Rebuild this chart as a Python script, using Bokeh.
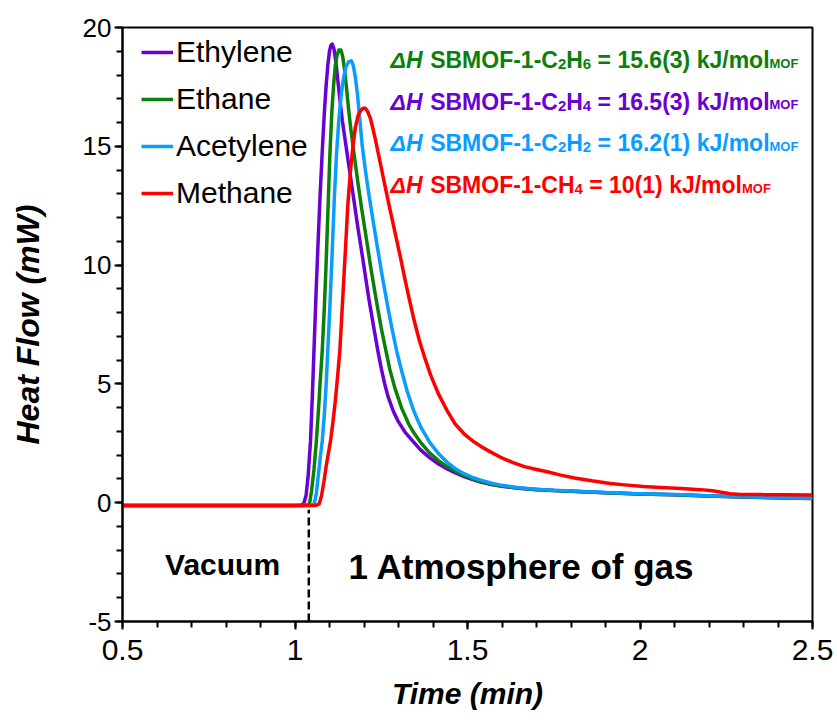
from bokeh.plotting import figure
from bokeh.models import (Range1d, SingleIntervalTicker, CustomJSTickFormatter,
                          ColumnDataSource, Legend, LegendItem)
from bokeh.core.properties import value
from bokeh.embed import file_html
from bokeh.resources import INLINE

# ---------------- data ----------------
ethylene_t = [0.5, 1.0, 1.015, 1.025, 1.032, 1.038, 1.045, 1.05, 1.055, 1.061, 1.067,
              1.073, 1.079, 1.085, 1.09, 1.095, 1.1, 1.104, 1.108, 1.113, 1.118, 1.124,
              1.13, 1.137, 1.144, 1.151, 1.16, 1.17, 1.182, 1.195, 1.205, 1.215, 1.228,
              1.24, 1.25, 1.26, 1.27, 1.285, 1.3, 1.32, 1.344, 1.364, 1.39, 1.415, 1.441,
              1.465, 1.49, 1.515, 1.538, 1.57, 1.6, 1.65, 1.7, 1.75, 1.8, 1.9, 2.0, 2.1,
              2.2, 2.3, 2.4, 2.5]
ethylene_q = [-0.12, -0.12, -0.11, -0.05, 0.3, 1.1, 2.6, 4.4, 6.4, 8.8, 11.0,
              13.0, 14.8, 16.4, 17.5, 18.4, 19.0, 19.25, 19.3, 19.1, 18.6, 17.8,
              17.0, 16.1, 15.4, 14.7, 13.8, 12.8, 11.6, 10.4, 9.45, 8.5, 7.4,
              6.4, 5.65, 5.0, 4.45, 3.85, 3.4, 2.95, 2.55, 2.22, 1.9, 1.64, 1.42,
              1.25, 1.1, 0.97, 0.87, 0.76, 0.69, 0.61, 0.55, 0.51, 0.48, 0.42, 0.37, 0.33,
              0.28, 0.24, 0.21, 0.18]

ethane_t = [0.5, 1.02, 1.033, 1.042, 1.048, 1.055, 1.062, 1.068, 1.073, 1.079, 1.085,
            1.09, 1.096, 1.101, 1.107, 1.112, 1.117, 1.122, 1.127, 1.133, 1.138, 1.143,
            1.149, 1.155, 1.162, 1.171, 1.182, 1.195, 1.207, 1.219, 1.23, 1.24, 1.25,
            1.262, 1.275, 1.29, 1.31, 1.33, 1.344, 1.364, 1.39, 1.415, 1.441, 1.465,
            1.49, 1.515, 1.538, 1.57, 1.6, 1.65, 1.7, 1.75, 1.8, 1.9, 2.0, 2.1, 2.2,
            2.3, 2.4, 2.5]
ethane_q = [-0.12, -0.12, -0.11, -0.05, 0.5, 1.4, 2.6, 3.9, 5.1, 6.4, 8.2,
            10.0, 12.5, 14.6, 16.5, 17.6, 18.4, 18.85, 19.05, 19.05, 18.8, 18.3,
            17.5, 16.6, 15.7, 14.7, 13.5, 12.2, 11.1, 9.95, 9.0, 8.15, 7.35,
            6.5, 5.6, 4.8, 3.95, 3.3, 2.95, 2.54, 2.1, 1.78, 1.52, 1.32,
            1.14, 1.0, 0.89, 0.77, 0.7, 0.61, 0.56, 0.51, 0.48, 0.42, 0.37, 0.33, 0.28,
            0.24, 0.21, 0.18]

acetylene_t = [0.5, 1.035, 1.048, 1.056, 1.062, 1.068, 1.074, 1.079, 1.085, 1.09, 1.095,
               1.101, 1.108, 1.114, 1.12, 1.127, 1.134, 1.141, 1.148, 1.155, 1.163, 1.169,
               1.175, 1.181, 1.188, 1.195, 1.205, 1.215, 1.227, 1.24, 1.248, 1.257, 1.267,
               1.28, 1.296, 1.31, 1.325, 1.344, 1.364, 1.39, 1.415, 1.441, 1.465, 1.49,
               1.515, 1.538, 1.57, 1.6, 1.65, 1.7, 1.75, 1.8, 1.9, 2.0, 2.1, 2.2, 2.3,
               2.4, 2.5]
acetylene_q = [-0.12, -0.12, -0.11, -0.05, 0.4, 1.2, 2.0, 2.6, 3.7, 4.9, 6.4,
               8.2, 10.6, 12.8, 14.6, 16.1, 17.2, 17.9, 18.35, 18.55, 18.6, 18.4,
               17.9, 17.2, 16.1, 15.0, 13.9, 12.9, 11.8, 10.65, 9.95, 9.2, 8.4,
               7.4, 6.3, 5.5, 4.7, 3.87, 3.2, 2.55, 2.08, 1.7, 1.43, 1.22,
               1.06, 0.95, 0.82, 0.73, 0.63, 0.57, 0.52, 0.49, 0.43, 0.38, 0.34, 0.29, 0.25,
               0.22, 0.19]

methane_t = [0.5, 1.05, 1.062, 1.07, 1.077, 1.084, 1.09, 1.097, 1.103, 1.11, 1.117, 1.124,
             1.13, 1.138, 1.146, 1.153, 1.161, 1.168, 1.175, 1.183, 1.19, 1.197, 1.204,
             1.211, 1.218, 1.225, 1.232, 1.24, 1.25, 1.26, 1.27, 1.282, 1.294, 1.306,
             1.318, 1.33, 1.344, 1.36, 1.376, 1.393, 1.415, 1.441, 1.465, 1.49, 1.515,
             1.538, 1.565, 1.596, 1.63, 1.665, 1.7, 1.731, 1.77, 1.81, 1.86, 1.914,
             1.963, 2.01, 2.059, 2.12, 2.175, 2.21, 2.24, 2.262, 2.29, 2.35, 2.42, 2.5]
methane_q = [-0.12, -0.12, -0.11, -0.05, 0.3, 0.9, 1.5, 2.1, 2.6, 3.4, 4.3, 5.4,
             6.4, 8.5, 10.6, 12.5, 14.0, 15.0, 15.8, 16.3, 16.5, 16.6, 16.6,
             16.45, 16.2, 15.8, 15.35, 14.8, 14.1, 13.4, 12.7, 11.9, 11.1, 10.3,
             9.45, 8.65, 7.75, 6.85, 6.1, 5.38, 4.6, 3.87, 3.3, 2.9, 2.6,
             2.38, 2.15, 1.91, 1.7, 1.52, 1.4, 1.3, 1.16, 1.04, 0.92, 0.81,
             0.74, 0.68, 0.64, 0.6, 0.55, 0.5, 0.43, 0.38, 0.35, 0.34, 0.33, 0.32]

series_names = ["Ethylene", "Ethane", "Acetylene", "Methane"]
series_colors = ["#6a00d4", "#0a800a", "#0a9cff", "#ff0000"]

# enthalpy annotations (order as shown, top to bottom)
dh_formula = [("C", "2", "H", "6"), ("C", "2", "H", "4"), ("C", "2", "H", "2"), ("CH", "4", "", "")]
dh_value = ["15.6(3)", "16.5(3)", "16.2(1)", "10(1)"]
dh_colors = ["#0a800a", "#6a00d4", "#0a9cff", "#ff0000"]

gas_on_time = 1.04
x_ticks_interval = 0.5
y_ticks_interval = 5

FONT = "Liberation Sans"

# ---------------- figure ----------------
p = figure(width=837, height=728, output_backend="svg", toolbar_location=None,
           x_range=Range1d(0.5, 2.5), y_range=Range1d(-5, 20),
           min_border_left=122, min_border_right=25, min_border_top=27,
           min_border_bottom=107)
p.background_fill_color = "white"
p.border_fill_color = "white"
p.outline_line_color = "black"
p.outline_line_width = 2
p.xgrid.visible = False
p.ygrid.visible = False

p.xaxis.ticker = SingleIntervalTicker(interval=x_ticks_interval, num_minor_ticks=5)
p.yaxis.ticker = SingleIntervalTicker(interval=y_ticks_interval, num_minor_ticks=5)
p.xaxis.formatter = CustomJSTickFormatter(code="return tick.toString()")
p.yaxis.formatter = CustomJSTickFormatter(code="return tick.toString()")

for ax in (p.xaxis[0], p.yaxis[0]):
    ax.axis_line_width = 2
    ax.axis_line_color = "black"
    ax.major_tick_line_width = 2
    ax.minor_tick_line_width = 2
    ax.major_tick_line_color = "black"
    ax.minor_tick_line_color = "black"
    ax.major_tick_in = 0
    ax.minor_tick_in = 0
    ax.major_tick_out = 8
    ax.minor_tick_out = 6
    ax.major_label_text_color = "black"
    ax.major_label_text_font = FONT
    ax.axis_label_text_color = "black"
    ax.axis_label_text_font_style = "bold italic"
    ax.axis_label_text_font = FONT

p.xaxis.major_label_text_font_size = "30px"
p.xaxis.major_label_standoff = 10
p.xaxis.axis_label = "Time (min)"
p.xaxis.axis_label_text_font_size = "30px"
p.xaxis.axis_label_standoff = 14

p.yaxis.major_label_text_font_size = "26px"
p.yaxis.major_label_standoff = 3
p.yaxis.axis_label = "Heat Flow (mW)"
p.yaxis.axis_label_text_font_size = "32px"
p.yaxis.axis_label_standoff = 34

# dashed divider (vacuum -> gas)
p.segment(x0=[gas_on_time], y0=[-5], x1=[gas_on_time], y1=[-0.3],
          line_color="black", line_width=2.5, line_dash="8 4")

# curves
all_t = [ethylene_t, ethane_t, acetylene_t, methane_t]
all_q = [ethylene_q, ethane_q, acetylene_q, methane_q]
items = []
for name, col, t, q in zip(series_names, series_colors, all_t, all_q):
    r = p.line(t, q, line_color=col, line_width=3.5, line_join="round")
    items.append(LegendItem(label=name, renderers=[r]))

legend = Legend(items=items, location=(19, 409))
legend.label_text_font = FONT
legend.label_text_font_size = "30px"
legend.label_text_color = "black"
legend.glyph_width = 32
legend.glyph_height = 38
legend.label_height = 38
legend.label_standoff = 3
legend.spacing = 9
legend.padding = 0
legend.margin = 0
legend.border_line_color = None
legend.background_fill_alpha = 0
p.add_layout(legend, "center")

# region labels
p.text(x=[0.79], y=[-2.6], text=["Vacuum"], text_font_size="30px",
       text_font_style="bold", text_align="center", text_baseline="middle",
       text_color="black", text_font=value(FONT))
p.text(x=[1.657], y=[-2.7], text=["1 Atmosphere of gas"], text_font_size="35px",
       text_font_style="bold", text_align="center", text_baseline="middle",
       text_color="black", text_font=value(FONT))

# ---------------- rich-text enthalpy annotations ----------------
ARIAL_BOLD = {' ': 278, '-': 333, '=': 584, '(': 333, ')': 333, '.': 278, '/': 278,
              'A': 722, 'B': 722, 'C': 722, 'F': 611, 'H': 722, 'J': 556, 'M': 833,
              'O': 778, 'S': 667, 'k': 556, 'l': 278, 'm': 889, 'o': 611, '\u0394': 720}
for d in "0123456789":
    ARIAL_BOLD[d] = 556


def tw(s, size):
    return sum(ARIAL_BOLD.get(c, 556) for c in s) * size / 1000.0


MAIN, SUB, SUBMOF = 23, 15, 13
anchor_x = 1.277
row0_y = 18.62
row_dy = 1.75

groups = {}


def add(style, size, x, y, xo, yo, txt, col):
    key = (style, size)
    g = groups.setdefault(key, dict(x=[], y=[], xo=[], yo=[], text=[], color=[]))
    g["x"].append(x); g["y"].append(y); g["xo"].append(xo); g["yo"].append(yo)
    g["text"].append(txt); g["color"].append(col)


for i, (form, val, col) in enumerate(zip(dh_formula, dh_value, dh_colors)):
    y = row0_y - i * row_dy
    xo = 0.0
    add("bold italic", MAIN, anchor_x, y, xo, 0, "\u0394H", col)
    xo += tw("\u0394H ", MAIN)
    main1 = "SBMOF-1-" + form[0]
    add("bold", MAIN, anchor_x, y, xo, 0, main1, col)
    xo += tw(main1, MAIN)
    add("bold", SUB, anchor_x, y, xo, 4, form[1], col)
    xo += tw(form[1], SUB)
    if form[2]:
        add("bold", MAIN, anchor_x, y, xo, 0, form[2], col)
        xo += tw(form[2], MAIN)
        add("bold", SUB, anchor_x, y, xo, 4, form[3], col)
        xo += tw(form[3], SUB)
    xo += tw(" ", MAIN)
    rest = "= " + val + " kJ/mol"
    add("bold", MAIN, anchor_x, y, xo, 0, rest, col)
    xo += tw(rest, MAIN)
    add("bold", SUBMOF, anchor_x, y, xo, 3, "MOF", col)

for (style, size), g in groups.items():
    src = ColumnDataSource(g)
    p.text(x="x", y="y", x_offset="xo", y_offset="yo", text="text", source=src,
           text_color="color", text_font_size=f"{size}px", text_font_style=style,
           text_align="left", text_baseline="alphabetic", text_font=value(FONT))

open("out.html", "w").write(file_html(p, INLINE))
